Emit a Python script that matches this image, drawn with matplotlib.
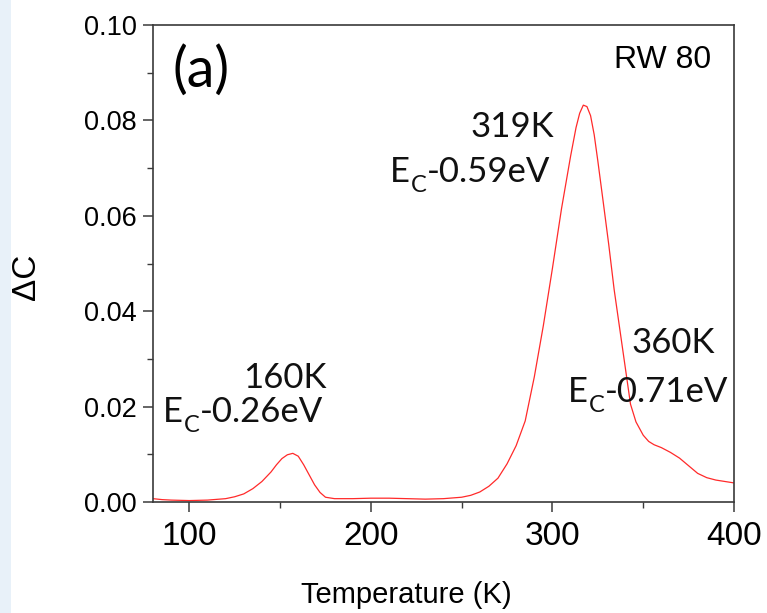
import matplotlib
matplotlib.use("Agg")
import matplotlib.pyplot as plt
from matplotlib.patches import Rectangle
from matplotlib.ticker import MultipleLocator

# temperature (K) and capacitance transient
temps = [80, 85, 90, 100, 110, 120, 125, 130, 135, 140, 145, 148, 151, 154, 157,
         160, 163, 166, 169, 172, 175, 180, 190, 200, 210, 220, 230, 240, 250,
         255, 260, 265, 270, 275, 280, 285, 290, 295, 300, 305, 310, 313, 315,
         317, 319, 321, 323, 325, 328, 331, 334, 337, 340, 343, 346, 350, 353,
         356, 360, 365, 370, 375, 380, 385, 390, 395, 400]
delta_c = [0.0007, 0.0005, 0.0004, 0.0003, 0.0004, 0.0007, 0.0011, 0.0017, 0.0028,
           0.0043, 0.0063, 0.0078, 0.0091, 0.0099, 0.0102, 0.0096, 0.0078, 0.0057,
           0.0036, 0.0020, 0.0010, 0.0007, 0.0007, 0.0008, 0.0008, 0.0007, 0.0006,
           0.0007, 0.0010, 0.0014, 0.0021, 0.0033, 0.0050, 0.0080, 0.0118, 0.0170,
           0.0262, 0.0370, 0.0490, 0.0615, 0.0725, 0.0785, 0.0815, 0.0832, 0.0829,
           0.0810, 0.0770, 0.0715, 0.0628, 0.0540, 0.0445, 0.0365, 0.0285, 0.0205,
           0.0168, 0.0140, 0.0127, 0.0120, 0.0114, 0.0104, 0.0092, 0.0076, 0.0060,
           0.0051, 0.0046, 0.0043, 0.0040]

x_ticks = [100, 200, 300, 400]
y_ticks = [0.00, 0.02, 0.04, 0.06, 0.08, 0.10]

peak_temps = ["160K", "319K", "360K"]
peak_levels = ["-0.26eV", "-0.59eV", "-0.71eV"]

plt.rcParams["font.family"] = "Liberation Sans"

fig = plt.figure(figsize=(7.67, 6.13), dpi=100)
fig.patches.append(Rectangle((0, 0), 11 / 767, 1, transform=fig.transFigure,
                             facecolor="#e8f1f9", edgecolor="none", zorder=0))

ax = fig.add_axes([153 / 767, 1 - 502 / 613, 581 / 767, 477 / 613])
ax.plot(temps, delta_c, color="#ff2a2a", linewidth=0.9)

ax.set_xlim(80, 400)
ax.set_ylim(0, 0.10)
ax.set_xticks(x_ticks)
ax.set_yticks(y_ticks)
ax.set_yticklabels([f"{v:.2f}" for v in y_ticks])
ax.xaxis.set_minor_locator(MultipleLocator(50))
ax.yaxis.set_minor_locator(MultipleLocator(0.01))

spine_color = "#3a3a3a"
for s in ax.spines.values():
    s.set_color(spine_color)
    s.set_linewidth(1.2)
ax.tick_params(which="major", direction="out", length=7.5, width=1.1, color=spine_color)
ax.tick_params(which="minor", direction="out", length=4, width=1.0, color=spine_color)
ax.tick_params(axis="x", which="major", labelsize=24, pad=6)
ax.tick_params(axis="y", which="major", labelsize=19.5, pad=4)

fig.text(406 / 767, 1 - 595 / 613, "Temperature (K)", fontsize=21,
         ha="center", va="center")
fig.text(27 / 767, 1 - 277 / 613, "ΔC", fontsize=24, rotation=90,
         ha="center", va="center", family=["Liberation Sans", "DejaVu Sans"])

ann = dict(family="Lato", fontsize=25, color="#111111")


def level_label(x, y, level):
    # E with a dropped subscript C, then the energy
    e = ax.text(x, y, "E", ha="left", va="baseline", **ann)
    c = ax.annotate("C", xy=(1, 0), xycoords=e, xytext=(0.5, -6),
                    textcoords="offset points", ha="left", va="bottom",
                    family="Lato", fontsize=17, color="#111111")
    ax.annotate(level, xy=(1, 0), xycoords=(c, e), xytext=(0.3, 0),
                textcoords="offset points", ha="left", va="bottom", **ann)


ax.text(90.5, 0.0903, "(a)", ha="left", va="center", family="Lato", fontsize=40)
ax.text(387.6, 0.0910, "RW 80", ha="right", va="baseline", fontsize=23)

ax.text(152.6, 0.0239, peak_temps[0], ha="center", va="baseline", **ann)
level_label(85.5, 0.0168, peak_levels[0])
ax.text(300.7, 0.0765, peak_temps[1], ha="right", va="baseline", **ann)
level_label(210.4, 0.0671, peak_levels[1])
ax.text(389.3, 0.0312, peak_temps[2], ha="right", va="baseline", **ann)
level_label(308.4, 0.0210, peak_levels[2])

plt.savefig("out.png", dpi=100)
